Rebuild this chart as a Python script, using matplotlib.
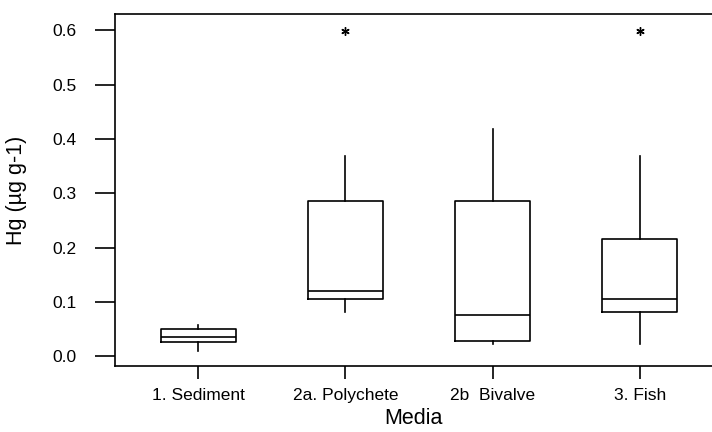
import matplotlib
matplotlib.use("Agg")
import matplotlib.pyplot as plt

plt.rcParams['font.family'] = ['Liberation Sans', 'DejaVu Sans']

# box statistics
groups = ["1. Sediment", "2a. Polychete", "2b  Bivalve", "3. Fish"]
whislo = [0.010, 0.082, 0.022, 0.022]
q1 = [0.026, 0.106, 0.028, 0.082]
med = [0.036, 0.120, 0.075, 0.106]
q3 = [0.050, 0.286, 0.285, 0.215]
whishi = [0.057, 0.369, 0.419, 0.368]
outliers = [[], [0.598], [], [0.598]]

stats = []
for i in range(len(groups)):
    stats.append(dict(label=groups[i], whislo=whislo[i], q1=q1[i], med=med[i],
                      q3=q3[i], whishi=whishi[i], fliers=outliers[i]))

fig = plt.figure(figsize=(7.12, 4.32), dpi=100)
ax = fig.add_axes([115 / 712, (432 - 366) / 432, 597 / 712, 352 / 432])

ax.bxp(stats, positions=[1, 2, 3, 4], widths=0.51, showcaps=False,
       boxprops=dict(color='black', linewidth=1.2),
       medianprops=dict(color='black', linewidth=1.2),
       whiskerprops=dict(color='black', linewidth=1.2),
       flierprops=dict(marker=(6, 2, 0), markersize=6, markeredgecolor='black',
                       markeredgewidth=1.0, linestyle='none'))

ax.set_xlim(0.435, 4.49)
ax.set_ylim(-0.018, 0.63)
ax.set_yticks([0.0, 0.1, 0.2, 0.3, 0.4, 0.5, 0.6])
ax.set_yticklabels(["0.0", "0.1", "0.2", "0.3", "0.4", "0.5", "0.6"])

ax.spines['right'].set_visible(False)
for s in ['left', 'top', 'bottom']:
    ax.spines[s].set_linewidth(1.2)

ax.tick_params(axis='y', length=14.4, width=1.2, labelsize=12.5, pad=13)
ax.tick_params(axis='x', length=9, width=1.2, labelsize=12.5, pad=7)

ax.set_xlabel("Media", fontsize=15.5)
ax.set_ylabel("Hg (µg g-1)", fontsize=15.5)
ax.xaxis.set_label_coords(0.5, -0.12)
ax.yaxis.set_label_coords(-0.147, 0.5)

fig.savefig("out.png", dpi=100)
